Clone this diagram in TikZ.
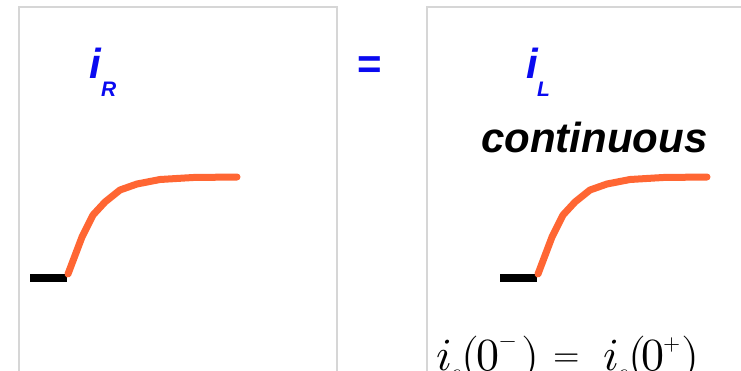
\documentclass[tikz,border=0pt]{standalone}
\usepackage{unicode-math}
\setmainfont{Liberation Sans}
\setmathfont{Latin Modern Math}
\definecolor{curveorange}{HTML}{FF6633}
\definecolor{boxgray}{HTML}{D6D6D6}
\definecolor{labelblue}{HTML}{0A0AF0}
\begin{document}
\begin{tikzpicture}[x=1pt,y=-1pt,
  panel/.style={draw=boxgray,line width=1.2pt},
  bigtxt/.style={inner sep=0pt,anchor=base west,font=\fontsize{42}{48}\selectfont\bfseries\itshape},
  subtxt/.style={inner sep=0pt,anchor=base west,font=\fontsize{21}{24}\selectfont\bfseries\itshape},
  fpart/.style={inner sep=0pt,anchor=base west,font=\fontsize{46}{52}\selectfont},
  fsub/.style={inner sep=0pt,anchor=base west,font=\fontsize{24}{26}\selectfont},
  fsup/.style={inner sep=0pt,anchor=center,font=\fontsize{22}{24}\selectfont},
  baseline0/.style={line width=8pt,black},
  rise/.style={line width=7pt,curveorange,line cap=round,line join=round}]
\useasboundingbox (0,0) rectangle (741,370);
\clip (0,0) rectangle (741,370);
\fill[white] (0,0) rectangle (741,370);
% panels
\draw[panel] (19,7) rectangle (337,380);
\draw[panel] (427,7) rectangle (760,380);
% labels
\node[bigtxt,text=labelblue] (iR) at (89,78) {i};
\node[subtxt,text=labelblue] (R) at (101,96) {R};
\node[bigtxt,text=labelblue,font=\fontsize{42}{48}\selectfont\bfseries] (eq) at (357,78) {=};
\node[bigtxt,text=labelblue] (iL) at (526,78) {i};
\node[subtxt,text=labelblue] (L) at (537,96) {L};
\node[bigtxt,text=black] (cont) at (481,152) {continuous};
% curves left
\coordinate (l0) at (30,277.5);
\coordinate (l1) at (67,277.5);
\draw[baseline0] (l0) -- (l1);
\draw[rise] (68,274) -- (82,237) -- (93,215) -- (105,202) -- (120,190) -- (137,184) -- (160,179.5) -- (193,177.5) -- (237,177);
% curves right
\coordinate (r0) at (500,277.5);
\coordinate (r1) at (537,277.5);
\draw[baseline0] (r0) -- (r1);
\draw[rise] (538,274) -- (552,237) -- (563,215) -- (575,202) -- (590,190) -- (607,184) -- (630,179.5) -- (663,177.5) -- (707,177);
% formula
\node[fpart] (f1) at (436,370) {$i$};
\node[fsub] (f1s) at (450,380) {$c$};
\node[fpart] (f2) at (461,370) {$($};
\node[fpart] (f3) at (476,370) {$0$};
\node[fsup] (f3s) at (508,345) {$-$};
\node[fpart] (f4) at (521,370) {$)$};
\node[fpart,font=\fontsize{34}{40}\selectfont] (f5) at (553,366) {$=$};
\node[fpart] (f6) at (603,370) {$i$};
\node[fsub] (f6s) at (617,380) {$c$};
\node[fpart] (f7) at (628,370) {$($};
\node[fpart] (f8) at (641,370) {$0$};
\node[fsup] (f8s) at (672,345) {$+$};
\node[fpart] (f9) at (681,370) {$)$};
\end{tikzpicture}
\end{document}
